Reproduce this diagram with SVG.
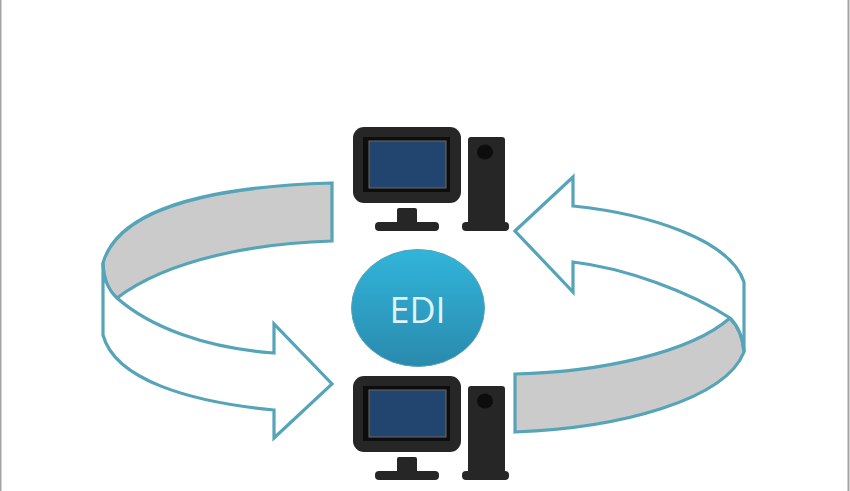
<svg xmlns="http://www.w3.org/2000/svg" xmlns:xlink="http://www.w3.org/1999/xlink" width="850" height="491" viewBox="0 0 850 491">
<style>
.band{fill:#fff;stroke:#56a4b8;stroke-width:3.2;stroke-linejoin:miter}
.gray{fill:#cbcbcb;stroke:#56a4b8;stroke-width:3.2;stroke-linejoin:miter}
.dark{fill:#282828}
.blk{fill:#0a0a0a}
.soft{filter:url(#b)}
</style>
<defs>
<filter id="b" x="-5%" y="-5%" width="110%" height="110%"><feGaussianBlur stdDeviation="0.5"/></filter>
<linearGradient id="g" x1="0" y1="0" x2="0" y2="1"><stop offset="0" stop-color="#31b5da"/><stop offset="1" stop-color="#2a8aad"/></linearGradient>
<g id="pc">
<rect class="dark" x="353" y="127" width="108" height="76" rx="11"/>
<rect class="blk" x="363" y="137" width="87" height="55"/>
<rect x="369" y="141" width="77" height="47" fill="#24446f" stroke="#6f6a60" stroke-width="1"/>
<rect class="dark" x="397" y="208" width="20" height="18" rx="2"/>
<rect class="dark" x="375" y="222" width="64" height="9" rx="4"/>
<rect class="dark" x="468" y="137" width="37" height="90" rx="3"/>
<rect class="dark" x="462" y="222" width="47" height="9" rx="4"/>
<ellipse class="blk" cx="485" cy="152" rx="8" ry="7.500"/>
</g>
</defs>
<rect width="850" height="491" fill="#fff"/>
<path d="M.5 0V491M848.500 0V491" stroke="#a4a4a4" stroke-width="2" fill="none"/>
<g id="connectors" class="soft">
<g id="arrow-left">
<path class="gray" d="M332 183C230 186 120 203 103 263C104 280 108 290 117 298C170 258 260 243 332 241Z"/>
<path class="band" d="M103 263C102 275 108 290 117 298C150 327 205 348 274 353V324L332 384L274 438V410C190 402 115 380 103 335Z"/>
</g>
<g id="arrow-right">
<path class="gray" d="M515 374C600 372 690 353 730 318C738 326 743 338 744 352C725 400 620 428 515 432Z"/>
<path class="band" d="M515 231L573 177V206C650 214 730 240 744 282V352C743 338 738 326 730 318C690 292 625 268 573 262V292Z"/>
</g>
</g>
<g id="computer-top" class="soft"><use xlink:href="#pc" href="#pc"/></g>
<g id="computer-bottom" class="soft"><use xlink:href="#pc" href="#pc" y="249"/></g>
<g id="edi">
<ellipse cx="418" cy="308" rx="66.500" ry="58.500" fill="url(#g)" stroke="#56a4b8" stroke-width="1"/>
<text x="417.500" y="323" text-anchor="middle" font-family="'Open Sans','Noto Sans',sans-serif" font-size="36" fill="#dff3f8">EDI</text>
</g>
</svg>
